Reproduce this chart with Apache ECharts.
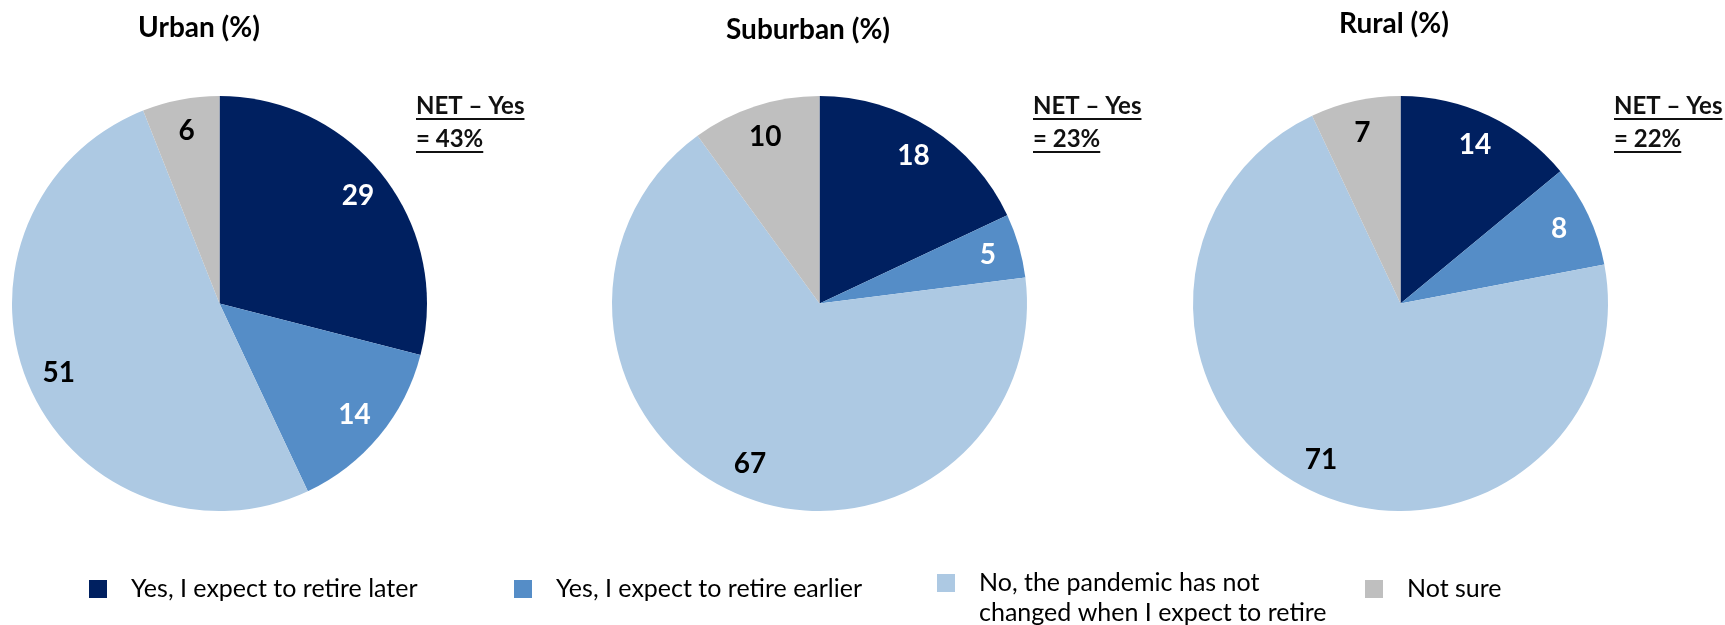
<!DOCTYPE html>
<html>
<head>
<meta charset="utf-8">
<script src="https://cdn.jsdelivr.net/npm/echarts@6/dist/echarts.min.js"></script>
<style>
  html, body { margin: 0; padding: 0; background: #ffffff; }
  #chart { width: 1725px; height: 625px; }
</style>
</head>
<body>
<div id="chart"></div>
<script>
// Answer categories (clockwise from 12 o'clock) and their legend captions
const categories = [
  'Yes, I expect to retire later',
  'Yes, I expect to retire earlier',
  'No, the pandemic has not changed when I expect to retire',
  'Not sure'
];
const legendCaptions = [
  'Yes, I expect to retire later',
  'Yes, I expect to retire earlier',
  'No, the pandemic has not\nchanged when I expect to retire',
  'Not sure'
];

// One pie per area type
const areaTitles = ['Urban (%)', 'Suburban (%)', 'Rural (%)'];
const urbanValues = [29, 14, 51, 6];
const suburbanValues = [18, 5, 67, 10];
const ruralValues = [14, 8, 71, 7];
const areaValues = [urbanValues, suburbanValues, ruralValues];

// Styling
const sliceColors = ['#002060', '#558DC7', '#ADC9E3', '#BFBFBF'];
const labelColors = ['#ffffff', '#ffffff', '#000000', '#000000'];
const FONT = 'Lato, "Open Sans", sans-serif';

// Layout (pixels)
const R = 207.5;
const pieCenterX = [219.5, 819.5, 1400.5];
const pieCenterY = 303.5;
const titleX = [199, 808, 1394];
const titleY = [28, 30, 24];
const netX = [416, 1033, 1614];
const netY = [106, 139];
const legendX = [89, 514, 937, 1365];
const legendTop = 574;
const LEGEND_LINE = 30;

const NET_FONT_SIZE = 24;

// NET – Yes = both "Yes" answers together
const netYes = areaValues.map(v => v[0] + v[1]);

const measureCtx = document.createElement('canvas').getContext('2d');
function textWidth(str, size, weight) {
  measureCtx.font = weight + ' ' + size + 'px ' + FONT;
  return measureCtx.measureText(str).width;
}

const series = [];
areaValues.forEach((vals, g) => {
  // the slices
  series.push({
    type: 'pie',
    center: [pieCenterX[g], pieCenterY],
    radius: [0, R],
    startAngle: 90,
    clockwise: true,
    label: { show: false },
    labelLine: { show: false },
    emphasis: { disabled: true },
    itemStyle: { borderWidth: 0 },
    data: vals.map((v, i) => ({
      name: categories[i],
      value: v,
      itemStyle: { color: sliceColors[i] }
    }))
  });
  // transparent outer ring carrying the value labels near the rim
  series.push({
    type: 'pie',
    silent: true,
    center: [pieCenterX[g], pieCenterY],
    radius: [R * 0.66, R],
    startAngle: 90,
    clockwise: true,
    labelLine: { show: false },
    emphasis: { disabled: true },
    label: {
      show: true,
      position: 'inside',
      formatter: '{c}',
      fontFamily: FONT,
      fontWeight: 'bold',
      fontSize: 28
    },
    data: vals.map((v, i) => ({
      name: categories[i],
      value: v,
      itemStyle: { color: 'rgba(0,0,0,0)' },
      label: { color: labelColors[i] }
    }))
  });
});

// one legend block per entry so each sits at its own column;
// a two-line caption gets an empty leading line so that its first
// line stays level with the marker (the text block is centred on it)
const legends = categories.map((name, i) => {
  const twoLines = legendCaptions[i].indexOf('\n') >= 0;
  return {
    data: [name],
    left: legendX[i],
    top: twoLines ? legendTop - 36 : legendTop,
    padding: 0,
    icon: 'rect',
    itemWidth: 18,
    itemHeight: 18,
    selectedMode: false,
    formatter: () => (twoLines ? ' \n' : '') + legendCaptions[i],
    textStyle: {
      fontFamily: FONT,
      fontSize: 25,
      color: '#000000',
      lineHeight: LEGEND_LINE,
      padding: [0, 0, 0, 19]
    }
  };
});

const titles = areaTitles.map((t, g) => ({
  text: t,
  left: titleX[g],
  top: titleY[g] - 15,
  textAlign: 'center',
  padding: 0,
  textStyle: {
    fontFamily: FONT,
    fontSize: 28,
    fontWeight: 'bold',
    color: '#000000',
    lineHeight: 30
  }
}));

// underlined "NET – Yes = xx%" notes beside each pie
const graphics = netYes.map((net, g) => {
  const lines = ['NET – Yes', '= ' + net + '%'];
  const children = [];
  lines.forEach((line, k) => {
    children.push({
      type: 'text',
      style: {
        text: line,
        x: 0,
        y: netY[k],
        fontFamily: FONT,
        fontSize: NET_FONT_SIZE,
        fontWeight: 'bold',
        fill: '#111111',
        verticalAlign: 'middle'
      }
    });
    children.push({
      type: 'rect',
      shape: { x: 0, y: netY[k] + 12, width: textWidth(line, NET_FONT_SIZE, 'bold'), height: 2 },
      style: { fill: '#111111' }
    });
  });
  return { type: 'group', x: netX[g], y: 0, children: children };
});

const chart = echarts.init(document.getElementById('chart'), null, { renderer: 'canvas' });
chart.setOption({
  animation: false,
  backgroundColor: '#ffffff',
  title: titles,
  legend: legends,
  series: series,
  graphic: graphics
});
</script>
</body>
</html>
